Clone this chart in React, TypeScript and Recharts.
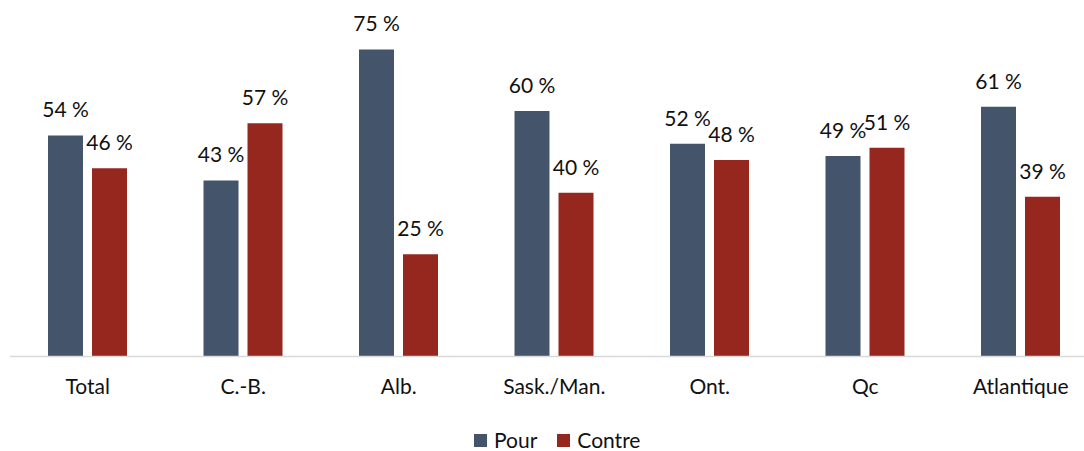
import React from 'react';
import { BarChart, Bar, XAxis, YAxis, Legend, LabelList } from 'recharts';

const categories = ['Total', 'C.-B.', 'Alb.', 'Sask./Man.', 'Ont.', 'Qc', 'Atlantique'];
const pourValues = [54, 43, 75, 60, 52, 49, 61];
const contreValues = [46, 57, 25, 40, 48, 51, 39];
const seriesNames = ['Pour', 'Contre'];
const seriesColors = ['#44546A', '#95271F'];

const data = categories.map((c, i) => ({ name: c, pour: pourValues[i], contre: contreValues[i] }));

const FONT = 'Lato, "Noto Sans", sans-serif';
const FS = 21;

const LegendContent = () => (
  <div style={{ display: 'flex', alignItems: 'center', fontFamily: FONT, fontSize: FS, color: '#111', paddingLeft: 474, height: 22, lineHeight: '22px' }}>
    {seriesNames.map((n, i) => (
      <div key={n} style={{ display: 'flex', alignItems: 'center', marginRight: 20 }}>
        <div style={{ width: 13, height: 13, background: seriesColors[i], marginRight: 7 }} />
        <span>{n}</span>
      </div>
    ))}
  </div>
);

const renderLabel = (props: any) => {
  const { x, y, width, value } = props;
  return (
    <text x={Number(x) + Number(width) / 2} y={Number(y) - 18} textAnchor="middle"
      style={{ fontFamily: FONT, fontSize: FS, fill: '#111' }}>
      {`${value} %`}
    </text>
  );
};

export default function App() {
  return (
    <div style={{ position: 'absolute', left: 0, top: 0, width: 1084, height: 451, overflow: 'hidden', background: '#fff' }}>
      <BarChart
        width={1100}
        height={451}
        data={data}
        margin={{ top: 29, right: 1.5, left: 10, bottom: 42.5 }}
        barSize={35}
        barGap={9}
      >
        <XAxis
          dataKey="name"
          axisLine={{ stroke: '#d9d9d9', strokeWidth: 1.5 }}
          tickLine={false}
          tickSize={0}
          tickMargin={23}
          height={30}
          tick={{ fontFamily: FONT, fontSize: FS, fill: '#111' }}
          interval={0}
        />
        <YAxis hide domain={[0, 80]} />
        <Legend
          verticalAlign="bottom"
          content={<LegendContent />}
          wrapperStyle={{ height: 22, top: 429, bottom: 'auto', left: 0, width: 1100 }}
        />
        <Bar dataKey="pour" name="Pour" fill={seriesColors[0]} isAnimationActive={false}>
          <LabelList dataKey="pour" content={renderLabel} />
        </Bar>
        <Bar dataKey="contre" name="Contre" fill={seriesColors[1]} isAnimationActive={false}>
          <LabelList dataKey="contre" content={renderLabel} />
        </Bar>
      </BarChart>
    </div>
  );
}
